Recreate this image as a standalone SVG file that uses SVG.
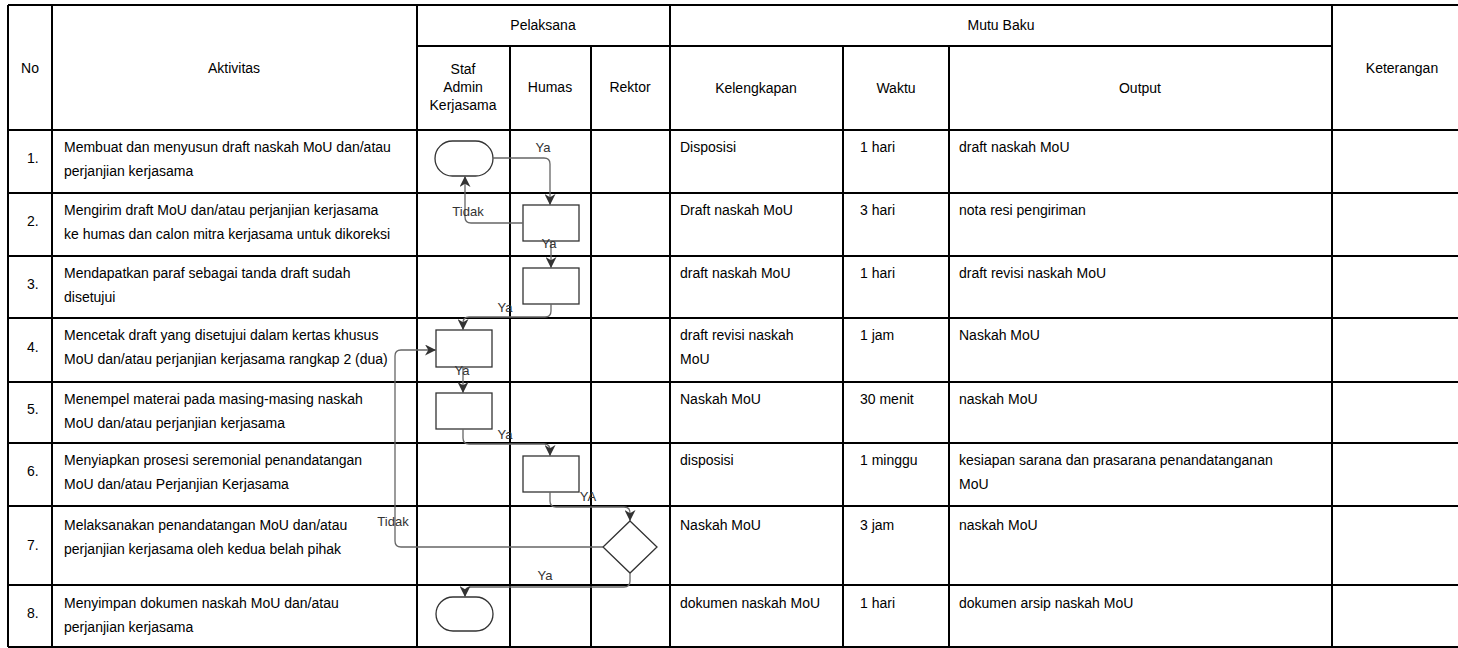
<svg xmlns="http://www.w3.org/2000/svg" width="1458" height="648" viewBox="0 0 1458 648">
<style>
.t{font-family:"Liberation Sans",Arial,sans-serif;font-size:14px;fill:#000}
.c{text-anchor:middle}
.lbl{font-family:"Liberation Sans",Arial,sans-serif;font-size:13px;fill:#333;text-anchor:middle}
.grid{stroke:#000;stroke-width:2;fill:none}
.shape{fill:#fff;stroke:#333;stroke-width:1.3}
.conn{fill:none;stroke:#666;stroke-width:1.3;marker-end:url(#arr)}
</style>
<defs>
<marker id="arr" viewBox="0 0 10 10" refX="10" refY="5" markerWidth="11" markerHeight="11" markerUnits="userSpaceOnUse" orient="auto">
<path d="M0,0 L10,5 L0,10 L3,5 z" fill="#333"/>
</marker>
</defs>
<rect x="0" y="0" width="1458" height="648" fill="#fff"/>
<g id="table">
<path class="grid" d="M8,5 H1472 M417,46 H1332 M8,130 H1472 M8,193 H1472 M8,256 H1472 M8,318 H1472 M8,382 H1472 M8,443 H1472 M8,506 H1472 M8,585 H1472 M8,647 H1472 M8,5 V647 M52,5 V647 M417,5 V647 M510,46 V647 M591,46 V647 M670,5 V647 M843,46 V647 M949,46 V647 M1332,5 V647"/>
<text class="t c" x="30" y="73">No</text>
<text class="t c" x="234" y="73">Aktivitas</text>
<text class="t c" x="543" y="30">Pelaksana</text>
<text class="t c" x="1001" y="30">Mutu Baku</text>
<text class="t c" x="1402" y="73">Keterangan</text>
<text class="t c" x="463" y="74">Staf</text>
<text class="t c" x="463" y="92">Admin</text>
<text class="t c" x="463" y="110">Kerjasama</text>
<text class="t c" x="550" y="92">Humas</text>
<text class="t c" x="630" y="92">Rektor</text>
<text class="t c" x="756" y="93">Kelengkapan</text>
<text class="t c" x="896" y="93">Waktu</text>
<text class="t c" x="1140" y="93">Output</text>
</g>
<g id="row1">
<text class="t" x="27" y="163">1.</text>
<text class="t" x="64" y="152">Membuat dan menyusun draft naskah MoU dan/atau</text>
<text class="t" x="64" y="176">perjanjian kerjasama</text>
<text class="t" x="680" y="152">Disposisi</text>
<text class="t" x="860" y="152">1 hari</text>
<text class="t" x="959" y="152">draft naskah MoU</text>
</g>
<g id="row2">
<text class="t" x="27" y="226">2.</text>
<text class="t" x="64" y="215">Mengirim draft MoU dan/atau perjanjian kerjasama</text>
<text class="t" x="64" y="239">ke humas dan calon mitra kerjasama untuk dikoreksi</text>
<text class="t" x="680" y="215">Draft naskah MoU</text>
<text class="t" x="860" y="215">3 hari</text>
<text class="t" x="959" y="215">nota resi pengiriman</text>
</g>
<g id="row3">
<text class="t" x="27" y="289">3.</text>
<text class="t" x="64" y="278">Mendapatkan paraf sebagai tanda draft sudah</text>
<text class="t" x="64" y="302">disetujui</text>
<text class="t" x="680" y="278">draft naskah MoU</text>
<text class="t" x="860" y="278">1 hari</text>
<text class="t" x="959" y="278">draft revisi naskah MoU</text>
</g>
<g id="row4">
<text class="t" x="27" y="352">4.</text>
<text class="t" x="64" y="340">Mencetak draft yang disetujui dalam kertas khusus</text>
<text class="t" x="64" y="364">MoU dan/atau perjanjian kerjasama rangkap 2 (dua)</text>
<text class="t" x="680" y="340">draft revisi naskah</text>
<text class="t" x="680" y="364">MoU</text>
<text class="t" x="860" y="340">1 jam</text>
<text class="t" x="959" y="340">Naskah MoU</text>
</g>
<g id="row5">
<text class="t" x="27" y="414">5.</text>
<text class="t" x="64" y="404">Menempel materai pada masing-masing naskah</text>
<text class="t" x="64" y="428">MoU dan/atau perjanjian kerjasama</text>
<text class="t" x="680" y="404">Naskah MoU</text>
<text class="t" x="860" y="404">30 menit</text>
<text class="t" x="959" y="404">naskah MoU</text>
</g>
<g id="row6">
<text class="t" x="27" y="476">6.</text>
<text class="t" x="64" y="465">Menyiapkan prosesi seremonial penandatangan</text>
<text class="t" x="64" y="489">MoU dan/atau Perjanjian Kerjasama</text>
<text class="t" x="680" y="465">disposisi</text>
<text class="t" x="860" y="465">1 minggu</text>
<text class="t" x="959" y="465">kesiapan sarana dan prasarana penandatanganan</text>
<text class="t" x="959" y="489">MoU</text>
</g>
<g id="row7">
<text class="t" x="27" y="550">7.</text>
<text class="t" x="64" y="530">Melaksanakan penandatangan MoU dan/atau</text>
<text class="t" x="64" y="554">perjanjian kerjasama oleh kedua belah pihak</text>
<text class="t" x="680" y="530">Naskah MoU</text>
<text class="t" x="860" y="530">3 jam</text>
<text class="t" x="959" y="530">naskah MoU</text>
</g>
<g id="row8">
<text class="t" x="27" y="618">8.</text>
<text class="t" x="64" y="608">Menyimpan dokumen naskah MoU dan/atau</text>
<text class="t" x="64" y="632">perjanjian kerjasama</text>
<text class="t" x="680" y="608">dokumen naskah MoU</text>
<text class="t" x="860" y="608">1 hari</text>
<text class="t" x="959" y="608">dokumen arsip naskah MoU</text>
</g>
<g id="start"><rect class="shape" x="435" y="141" width="58" height="35" rx="17.5"/></g>
<g id="step2"><rect class="shape" x="523" y="205" width="56" height="36"/></g>
<g id="step3"><rect class="shape" x="523" y="268" width="56" height="36"/></g>
<g id="step4"><rect class="shape" x="436" y="330" width="56" height="37"/></g>
<g id="step5"><rect class="shape" x="436" y="393" width="56" height="36"/></g>
<g id="step6"><rect class="shape" x="523" y="456" width="56" height="36"/></g>
<g id="decision"><path class="shape" d="M630,521 L657,547 L630,573 L603,547 Z"/></g>
<g id="end"><rect class="shape" x="436" y="597" width="57" height="34" rx="17"/></g>
<g id="connectors">
<path class="conn" d="M493,158 H544 Q550,158 550,164 V205"/>
<path class="conn" d="M523,223 H471 Q465,223 465,217 V176"/>
<path class="conn" d="M551,241 V268"/>
<path class="conn" d="M551,304 V311 Q551,317 545,317 H469 Q463,317 463,323 V330"/>
<path class="conn" d="M463,367 V393"/>
<path class="conn" d="M463,429 V438 Q463,444 469,444 H544 Q550,444 550,450 V456"/>
<path class="conn" d="M550,492 V501 Q550,507 556,507 H624 Q630,507 630,513 V521"/>
<path class="conn" d="M603,547 H401 Q395,547 395,541 V356 Q395,350 401,350 H436"/>
<path class="conn" d="M630,573 V581 Q630,587 624,587 H471 Q465,587 465,593 V597"/>
<text class="lbl" x="543" y="152">Ya</text>
<text class="lbl" x="468" y="216">Tidak</text>
<text class="lbl" x="549" y="248">Ya</text>
<text class="lbl" x="505" y="312">Ya</text>
<text class="lbl" x="462" y="375">Ya</text>
<text class="lbl" x="505" y="439">Ya</text>
<text class="lbl" x="588" y="501">YA</text>
<text class="lbl" x="393" y="526">Tidak</text>
<text class="lbl" x="545" y="580">Ya</text>
</g>
</svg>
